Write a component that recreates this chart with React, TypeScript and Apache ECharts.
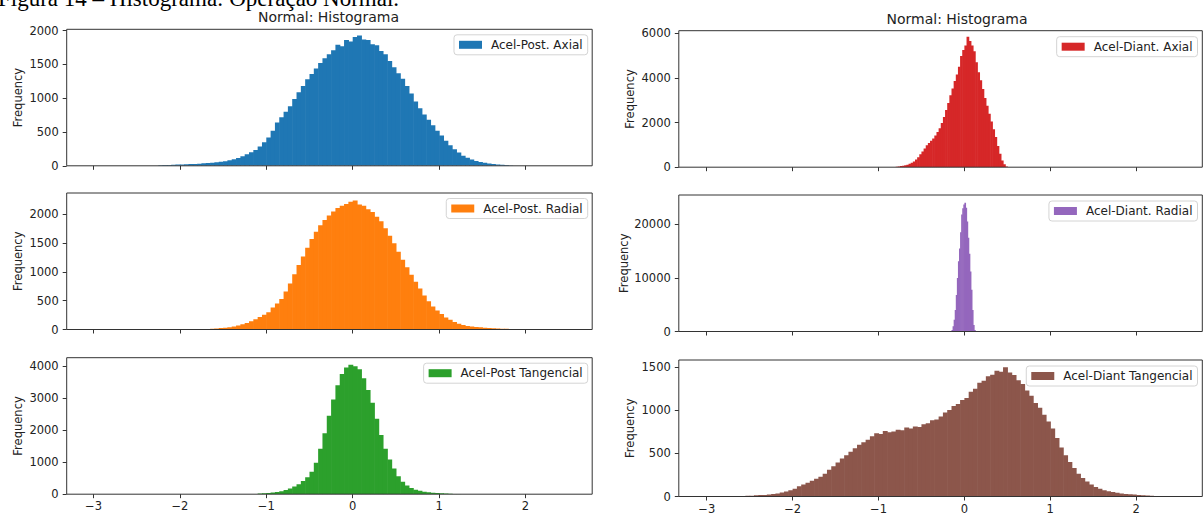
import React, { useEffect, useRef } from "react";
import * as echarts from "echarts";

// ---------------- data ----------------
const captionText = "Figura 14 – Histograma: Operação Normal.";
const titleText = "Normal: Histograma";
const yAxisTitle = "Frequency";
const xTickValues = [-3, -2, -1, 0, 1, 2];

const postAxialName = "Acel-Post. Axial";
const postAxialStart = -2.25;
const postAxialWidth = 0.05;
const postAxialCounts = [
  8, 10, 12, 15, 18, 20, 22, 25, 28, 32, 36, 40, 46, 52, 60, 68, 82, 96, 115, 140,
  170, 200, 235, 285, 350, 420, 520, 640, 720, 800, 880, 990, 1090, 1180, 1280, 1360, 1440, 1520, 1590, 1650,
  1710, 1790, 1770, 1860, 1840, 1905, 1930, 1870, 1860, 1800, 1785, 1700, 1650, 1550, 1460, 1370, 1290, 1180, 1070, 950,
  850, 760, 680, 600, 520, 450, 370, 305, 245, 195, 150, 120, 92, 72, 58, 45, 35, 28, 20, 15, 10, 6,
];
const postAxialTicks = [0, 500, 1000, 1500, 2000];

const postRadialName = "Acel-Post. Radial";
const postRadialStart = -1.75;
const postRadialWidth = 0.05;
const postRadialCounts = [
  8, 10, 14, 18, 24, 30, 40, 52, 70, 92, 115, 145, 180, 215, 255, 300, 380, 450, 530, 660,
  800, 960, 1120, 1270, 1420, 1570, 1700, 1810, 1900, 1980, 2050, 2110, 2150, 2180, 2220, 2240, 2170, 2150, 2090, 2040,
  1960, 1880, 1760, 1630, 1500, 1350, 1210, 1080, 950, 830, 710, 590, 490, 400, 330, 270, 210, 170, 130, 100,
  80, 62, 50, 44, 38, 32, 26, 22, 18, 14, 12, 10,
];
const postRadialTicks = [0, 500, 1000, 1500, 2000];

const postTangName = "Acel-Post Tangencial";
const postTangStart = -1.1;
const postTangWidth = 0.05;
const postTangCounts = [
  25, 30, 40, 55, 70, 95, 130, 175, 240, 310, 410, 530, 700, 980, 1420, 1900, 2450, 2950, 3400, 3750,
  3950, 4040, 3990, 3900, 3620, 3250, 2850, 2350, 1850, 1420, 1080, 800, 560, 390, 270, 190, 140, 105, 80, 60,
  45, 35, 30, 25, 12, 8, 10,
];
const postTangTicks = [0, 1000, 2000, 3000, 4000];

const diantAxialName = "Acel-Diant. Axial";
const diantAxialStart = -0.8;
const diantAxialWidth = 0.025;
const diantAxialCounts = [
  20, 35, 50, 70, 90, 115, 150, 200, 260, 340, 450, 580, 700, 840, 980, 1080, 1180, 1290, 1420, 1580,
  1740, 1980, 2250, 2560, 2880, 3220, 3530, 3860, 4150, 4500, 4980, 5250, 5450, 5850, 5650, 5450, 5200, 4700, 4250, 3900,
  3500, 3100, 2750, 2400, 2050, 1700, 1350, 950, 600, 300, 130, 30,
];
const diantAxialTicks = [0, 2000, 4000, 6000];

const diantRadialName = "Acel-Diant. Radial";
const diantRadialStart = -0.15;
const diantRadialWidth = 0.0125;
const diantRadialCounts = [
  300, 1000, 2200, 4000, 6800, 10000, 13100, 15500, 18500, 21800, 23000, 23700, 24000, 23100, 20500, 17500, 14500, 11200, 7800, 4000,
  1200, 300,
];
const diantRadialTicks = [0, 10000, 20000];

const diantTangName = "Acel-Diant Tangencial";
const diantTangStart = -2.6;
const diantTangWidth = 0.05;
const diantTangCounts = [
  5, 8, 10, 14, 16, 18, 22, 28, 36, 46, 58, 72, 90, 118, 140, 160, 182, 205, 228, 265,
  310, 350, 395, 440, 480, 520, 560, 600, 630, 660, 700, 735, 725, 760, 745, 756, 775, 770, 800, 790,
  812, 808, 840, 850, 885, 895, 930, 975, 1005, 1050, 1075, 1120, 1145, 1215, 1250, 1320, 1345, 1395, 1415, 1460,
  1450, 1500, 1440, 1410, 1350, 1305, 1230, 1170, 1085, 1030, 950, 870, 790, 680, 570, 480, 400, 330, 265, 215,
  175, 140, 110, 90, 74, 62, 52, 43, 36, 30, 25, 22, 18, 15, 12, 8,
];
const diantTangTicks = [0, 500, 1000, 1500];

// ---------------- layout / style ----------------
const FONT = "DejaVu Sans";
const TEXT = "#222";
const LINE = "#333";
const TICK_FS = 11.5;
const LEGEND_FS = 12;
const TITLE_FS = 14;

const LEFT_X = 66.7;
const LEFT_W = 525.5;
const RIGHT_X = 678.8;
const RIGHT_W = 523.5;
const H = 136.5;

type Panel = {
  name: string;
  color: string;
  start: number;
  width: number;
  counts: number[];
  yTicks: number[];
  yMax: number;
  left: number;
  top: number;
  w: number;
  xMin: number;
  xMax: number;
  nameGap: number;
  bottom: boolean;
};

const panels: Panel[] = [
  { name: postAxialName, color: "#1f77b4", start: postAxialStart, width: postAxialWidth, counts: postAxialCounts, yTicks: postAxialTicks, yMax: 2020, left: LEFT_X, top: 29.3, w: LEFT_W, xMin: -3.31, xMax: 2.772, nameGap: 43, bottom: false },
  { name: postRadialName, color: "#ff7f0e", start: postRadialStart, width: postRadialWidth, counts: postRadialCounts, yTicks: postRadialTicks, yMax: 2371, left: LEFT_X, top: 193, w: LEFT_W, xMin: -3.31, xMax: 2.772, nameGap: 43, bottom: false },
  { name: postTangName, color: "#2ca02c", start: postTangStart, width: postTangWidth, counts: postTangCounts, yTicks: postTangTicks, yMax: 4257, left: LEFT_X, top: 357.7, w: LEFT_W, xMin: -3.31, xMax: 2.772, nameGap: 43, bottom: true },
  { name: diantAxialName, color: "#d62728", start: diantAxialStart, width: diantAxialWidth, counts: diantAxialCounts, yTicks: diantAxialTicks, yMax: 6117, left: RIGHT_X, top: 30.7, w: RIGHT_W, xMin: -3.325, xMax: 2.77, nameGap: 43, bottom: false },
  { name: diantRadialName, color: "#9467bd", start: diantRadialStart, width: diantRadialWidth, counts: diantRadialCounts, yTicks: diantRadialTicks, yMax: 25456, left: RIGHT_X, top: 195, w: RIGHT_W, xMin: -3.325, xMax: 2.77, nameGap: 49, bottom: false },
  { name: diantTangName, color: "#8c564b", start: diantTangStart, width: diantTangWidth, counts: diantTangCounts, yTicks: diantTangTicks, yMax: 1585, left: RIGHT_X, top: 360, w: RIGHT_W, xMin: -3.325, xMax: 2.77, nameGap: 43, bottom: true },
];

const fmtX = (v: number) => (v < 0 ? "\u2212" + Math.abs(v) : String(v));

function buildOption() {
  const grid = panels.map((p) => ({
    left: p.left,
    top: p.top,
    width: p.w,
    height: H,
    show: true,
    z: 5,
    borderColor: LINE,
    borderWidth: 1,
    backgroundColor: "transparent",
  }));

  const xAxis = panels.map((p, i) => ({
    type: "value",
    gridIndex: i,
    min: p.xMin,
    max: p.xMax,
    axisLine: { show: false, onZero: false },
    splitLine: { show: false },
    axisPointer: { show: false },
    axisTick: { show: true, length: 4, lineStyle: { color: LINE, width: 1 }, customValues: xTickValues },
    axisLabel: {
      show: p.bottom,
      customValues: xTickValues,
      formatter: fmtX,
      fontSize: TICK_FS,
      fontFamily: FONT,
      color: TEXT,
      margin: 6,
    },
  }));

  const yAxis = panels.map((p, i) => ({
    type: "value",
    gridIndex: i,
    min: 0,
    max: p.yMax,
    axisLine: { show: false, onZero: false },
    splitLine: { show: false },
    axisPointer: { show: false },
    axisTick: { show: true, length: 4, lineStyle: { color: LINE, width: 1 }, customValues: p.yTicks },
    axisLabel: {
      customValues: p.yTicks,
      formatter: (v: number) => String(v),
      fontSize: TICK_FS,
      fontFamily: FONT,
      color: TEXT,
      margin: 8,
    },
    name: yAxisTitle,
    nameLocation: "middle",
    nameRotate: 90,
    nameGap: p.nameGap,
    nameTextStyle: { fontSize: TICK_FS, fontFamily: FONT, color: TEXT },
  }));

  const series = panels.map((p, i) => ({
    type: "custom",
    name: p.name,
    xAxisIndex: i,
    yAxisIndex: i,
    silent: true,
    clip: true,
    itemStyle: { color: p.color },
    encode: { x: [0, 1], y: 2 },
    data: p.counts.map((c, k) => [p.start + k * p.width, p.start + (k + 1) * p.width, c]),
    renderItem: (_params: any, api: any) => {
      const a = api.coord([api.value(0), api.value(2)]);
      const b = api.coord([api.value(1), 0]);
      return {
        type: "rect",
        shape: { x: a[0], y: a[1], width: b[0] - a[0] + 0.6, height: b[1] - a[1] },
        style: { fill: p.color },
      };
    },
  }));

  const legend = panels.map((p) => ({
    data: [{ name: p.name, icon: "rect" }],
    right: p.left < 300 ? 1203 - (p.left + p.w - 4.5) : 1203 - 1197.5,
    top: p.top + (p.left < 300 ? 5.5 : 6),
    orient: "horizontal",
    itemWidth: 23,
    itemHeight: 8,
    padding: [4, 5, 4, 5],
    borderColor: "#d4d4d4",
    borderWidth: 1,
    borderRadius: 3,
    backgroundColor: "rgba(255,255,255,0.85)",
    selectedMode: false,
    textStyle: { fontSize: LEGEND_FS, fontFamily: FONT, color: TEXT, padding: [0, 0, 0, 4] },
  }));

  const graphic = [
    {
      type: "text",
      x: -2,
      y: 10,
      style: {
        text: captionText,
        fontFamily: "Liberation Serif",
        fontSize: 23,
        fill: "#000",
        align: "left",
        verticalAlign: "bottom",
      },
    },
    {
      type: "text",
      x: 328.5,
      y: 17,
      style: { text: titleText, fontFamily: FONT, fontSize: TITLE_FS, fill: TEXT, align: "center", verticalAlign: "middle" },
    },
    {
      type: "text",
      x: 957,
      y: 19,
      style: { text: titleText, fontFamily: FONT, fontSize: TITLE_FS, fill: TEXT, align: "center", verticalAlign: "middle" },
    },
  ];

  return {
    animation: false,
    backgroundColor: "#ffffff",
    grid,
    xAxis,
    yAxis,
    series,
    legend,
    graphic,
  };
}

export default function App() {
  const ref = useRef<HTMLDivElement>(null);
  useEffect(() => {
    if (!ref.current) return;
    const chart = echarts.init(ref.current, undefined, { renderer: "svg" });
    chart.setOption(buildOption() as any);
    return () => chart.dispose();
  }, []);
  return (
    <div
      ref={ref}
      style={{ position: "absolute", left: 0, top: 0, width: 1203, height: 516 }}
    />
  );
}
